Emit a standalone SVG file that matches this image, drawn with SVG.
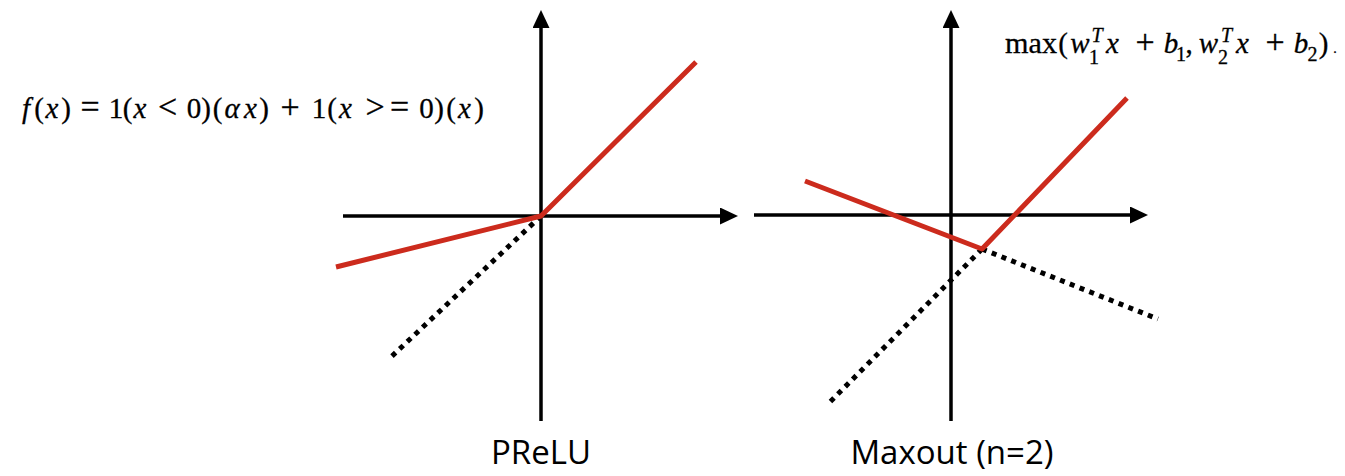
<svg xmlns="http://www.w3.org/2000/svg" width="1345" height="476" viewBox="0 0 1345 476">
  <defs>
    <marker id="arrow" markerUnits="userSpaceOnUse" viewBox="0 0 18 17" markerWidth="18" markerHeight="17" refX="5" refY="8.5" orient="auto">
      <path d="M0,0 L18,8.5 L0,17 Z" fill="#000"/>
    </marker>
    <style>
      .axis { stroke:#000; stroke-width:3.5; fill:none; marker-end:url(#arrow); }
      .red { stroke:#cc2b1d; stroke-width:5; fill:none; stroke-linejoin:round; }
      .dot { stroke:#000; stroke-width:5; fill:none; stroke-dasharray:5 5.5; }
      .math { font-family:"Liberation Serif","Times New Roman",serif; font-size:29px; fill:#000; text-anchor:middle; stroke:#000; stroke-width:0.3; }
      .it { font-style:italic; }
      .op { font-size:34px; }
      .sm { font-size:20px; }
      .label { font-family:"Open Sans","Liberation Sans",sans-serif; font-size:33px; fill:#000; text-anchor:middle; }
    </style>
  </defs>
  <rect width="1345" height="476" fill="#fff"/>

  <g id="connectors">
    <!-- PReLU axes -->
    <line class="axis" x1="541" y1="421" x2="541" y2="23"/>
    <line class="axis" x1="343" y1="216" x2="725" y2="216"/>
    <!-- Maxout axes -->
    <line class="axis" x1="951" y1="421" x2="951" y2="23"/>
    <line class="axis" x1="754" y1="215" x2="1135" y2="215"/>
  </g>

  <g id="prelu-plot">
    <line class="dot" x1="541" y1="216" x2="391" y2="357"/>
    <polyline class="red" points="336,267 541,216 696,62"/>
  </g>

  <g id="maxout-plot">
    <line class="dot" x1="982" y1="249" x2="1158" y2="319"/>
    <line class="dot" x1="982" y1="249" x2="830" y2="402"/>
    <polyline class="red" points="805,181 982,249 1127,98"/>
  </g>

  <g id="prelu-formula">
    <text class="math" y="118">
      <tspan class="it" x="26">f</tspan><tspan x="39">(</tspan><tspan class="it" x="52">x</tspan><tspan x="66">)</tspan><tspan class="op" x="90">=</tspan><tspan x="116">1</tspan><tspan x="127.5">(</tspan><tspan class="it" x="140">x</tspan><tspan class="op" x="167.5">&lt;</tspan><tspan x="194">0</tspan><tspan x="206">)</tspan><tspan x="217.5">(</tspan><tspan class="it" x="232">α</tspan><tspan class="it" x="250.5">x</tspan><tspan x="264">)</tspan><tspan class="op" x="290">+</tspan><tspan x="319">1</tspan><tspan x="332">(</tspan><tspan class="it" x="345.5">x</tspan><tspan class="op" x="375">&gt;</tspan><tspan class="op" x="399.5">=</tspan><tspan x="426.5">0</tspan><tspan x="439">)</tspan><tspan x="451">(</tspan><tspan class="it" x="464.5">x</tspan><tspan x="479">)</tspan>
    </text>
  </g>

  <g id="maxout-formula">
    <text class="math" y="53">
      <tspan x="1031" textLength="52" lengthAdjust="spacingAndGlyphs">max</tspan><tspan x="1063">(</tspan><tspan class="it" x="1080">w</tspan><tspan class="it sm" x="1097" y="42">T</tspan><tspan class="sm" x="1094" y="64">1</tspan><tspan class="it" x="1112.5" y="53">x</tspan><tspan class="op" x="1145">+</tspan><tspan class="it" x="1171">b</tspan><tspan class="sm" x="1181" y="61">1</tspan><tspan x="1189" y="53">,</tspan><tspan class="it" x="1208.5">w</tspan><tspan class="it sm" x="1226.5" y="42">T</tspan><tspan class="sm" x="1223" y="64">2</tspan><tspan class="it" x="1242.5" y="53">x</tspan><tspan class="op" x="1275">+</tspan><tspan class="it" x="1301">b</tspan><tspan class="sm" x="1312.5" y="61">2</tspan><tspan x="1323.5" y="53">)</tspan><tspan x="1335" style="font-size:14px">.</tspan>
    </text>
  </g>

  <g id="prelu-label">
    <text class="label" x="541" y="464">PReLU</text>
  </g>
  <g id="maxout-label">
    <text class="label" x="952" y="464">Maxout (n=2)</text>
  </g>
</svg>
